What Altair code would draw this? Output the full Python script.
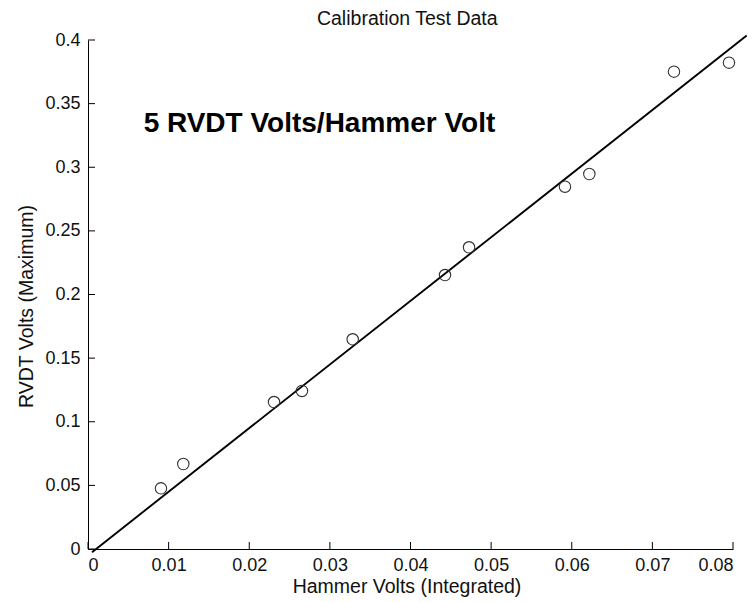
import altair as alt
import pandas as pd

# measured calibration points
hammer_volts = [0.00905, 0.01182, 0.02307, 0.02654, 0.03283, 0.04428, 0.04726,
                0.05916, 0.06218, 0.07268, 0.0795]
rvdt_volts = [0.0477, 0.0668, 0.1155, 0.1242, 0.1648, 0.2153, 0.2371,
              0.2847, 0.2947, 0.3751, 0.3822]

# fitted line end points
fit_x = [0.0005, 0.0817]
fit_y = [-0.0025, 0.4035]

x_ticks = [0, 0.01, 0.02, 0.03, 0.04, 0.05, 0.06, 0.07, 0.08]
y_ticks = [0, 0.05, 0.1, 0.15, 0.2, 0.25, 0.3, 0.35, 0.4]

annot_text = ["5 RVDT Volts/Hammer Volt"]
annot_x = [0.0069]
annot_y = [0.3277]

title_text = ["Calibration Test Data"]
title_x = [0.0396]

W, H = 645, 509
FONT = "Liberation Sans"

pts = pd.DataFrame({"x": hammer_volts, "y": rvdt_volts})
fit = pd.DataFrame({"x": fit_x, "y": fit_y})
xt = pd.DataFrame({"v": x_ticks})
yt = pd.DataFrame({"v": y_ticks})
ann = pd.DataFrame({"t": annot_text, "x": annot_x, "y": annot_y})
ttl = pd.DataFrame({"t": title_text, "x": title_x})

xscale = alt.Scale(domain=[0, 0.08], nice=False, zero=False)
yscale = alt.Scale(domain=[0, 0.4], nice=False, zero=False)

xaxis = alt.Axis(values=x_ticks, format="~g", title="Hammer Volts (Integrated)",
                 ticks=False, tickSize=0, grid=False,
                 titleBaseline="alphabetic", titleY=43, titleX=W / 2 - 4)
yaxis = alt.Axis(values=y_ticks, format="~g", title="RVDT Volts (Maximum)",
                 ticks=False, tickSize=0, grid=False,
                 titleBaseline="alphabetic", titleX=-56, titleY=266, titleAngle=-90)

points = alt.Chart(pts).mark_point(
    shape="circle", filled=False, size=130, stroke="#333333", strokeWidth=1.1, opacity=1
).encode(
    x=alt.X("x:Q", scale=xscale, axis=xaxis),
    y=alt.Y("y:Q", scale=yscale, axis=yaxis),
)

line = alt.Chart(fit).mark_line(color="black", strokeWidth=1.9, clip=False).encode(
    x=alt.X("x:Q", scale=xscale),
    y=alt.Y("y:Q", scale=yscale),
)

xticks = alt.Chart(xt).mark_rule(color="black", strokeWidth=1, opacity=1).encode(
    x=alt.X("v:Q", scale=xscale),
    y=alt.value(H),
    y2=alt.value(H - 7),
)

yticks = alt.Chart(yt).mark_rule(color="black", strokeWidth=1, opacity=1).encode(
    y=alt.Y("v:Q", scale=yscale),
    x=alt.value(0),
    x2=alt.value(7),
)

label = alt.Chart(ann).mark_text(
    align="left", baseline="alphabetic", font=FONT, fontSize=28, fontWeight="bold",
    color="black"
).encode(
    x=alt.X("x:Q", scale=xscale),
    y=alt.Y("y:Q", scale=yscale),
    text="t:N",
)

title = alt.Chart(ttl).mark_text(
    align="center", baseline="alphabetic", font=FONT, fontSize=19.5,
    color="#111111", clip=False
).encode(
    x=alt.X("x:Q", scale=xscale),
    y=alt.value(-15),
    text="t:N",
)

chart = alt.layer(line, points, xticks, yticks, label, title).properties(
    width=W, height=H,
    background="white",
    autosize=alt.AutoSizeParams(type="none"),
    padding={"left": 80, "top": 32, "right": 14, "bottom": 52},
).configure_view(stroke=None).configure_axis(
    grid=False, ticks=False, tickSize=0, domain=True, domainColor="black", domainWidth=1,
    labelFont=FONT, labelFontSize=18, labelColor="#111111", labelPadding=7,
    titleFont=FONT, titleFontSize=19.5, titleFontWeight="normal", titleColor="#111111",
).configure_axisY(labelPadding=8)

chart.save("out.html", embed_options={"renderer": "svg", "actions": False})
